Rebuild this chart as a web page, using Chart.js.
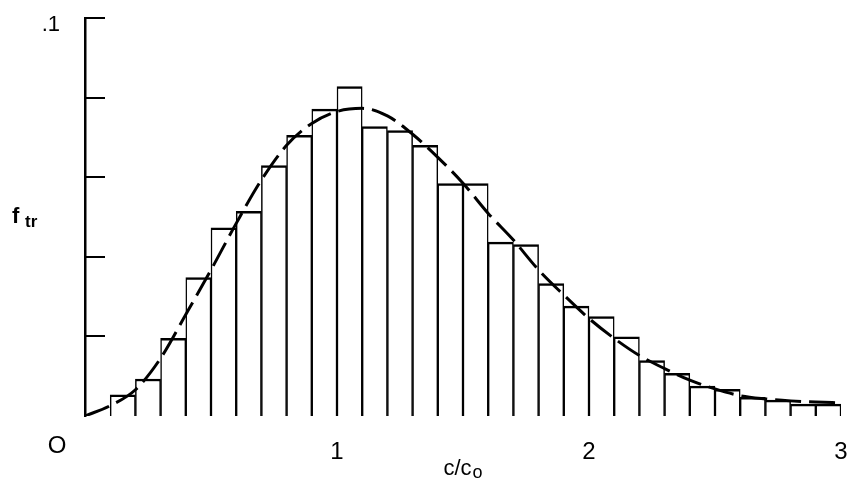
<!DOCTYPE html>
<html>
<head>
<meta charset="utf-8">
<script src="https://cdn.jsdelivr.net/npm/chart.js@4.4.1/dist/chart.umd.min.js"></script>
<style>
    html, body { margin: 0; padding: 0; background: #fff; }
    #wrap { width: 851px; height: 483px; }
</style>
</head>
<body>
<div id="wrap"><canvas id="histChart"></canvas></div>
<script>
// Histogram bins of c/c0 (width 0.1), centre of each bin
const binCenters = [0.05, 0.15, 0.25, 0.35, 0.45, 0.55, 0.65, 0.75, 0.85, 0.95,
                    1.05, 1.15, 1.25, 1.35, 1.45, 1.55, 1.65, 1.75, 1.85, 1.95,
                    2.05, 2.15, 2.25, 2.35, 2.45, 2.55, 2.65, 2.75, 2.85, 2.95];

// f_tr for each bin
const barHeights = [0, 0.0053, 0.0093, 0.0195, 0.0348, 0.0473, 0.0514, 0.0629, 0.0705, 0.0771,
                    0.0828, 0.0727, 0.0717, 0.0680, 0.0584, 0.0584, 0.0437, 0.0431, 0.0333, 0.0276,
                    0.0250, 0.0199, 0.0139, 0.0107, 0.0075, 0.0067, 0.0047, 0.0040, 0.0030, 0.0030];

// Dashed fitted curve
const curveX = [0, 0.1, 0.2, 0.3, 0.4, 0.5, 0.6, 0.7, 0.8, 0.9,
                1.0, 1.1, 1.2, 1.3, 1.4, 1.5, 1.6, 1.7, 1.8, 1.9,
                2.0, 2.1, 2.2, 2.3, 2.4, 2.5, 2.6, 2.7, 2.8, 2.9, 3.0];
const curveY = [0, 0.0026, 0.0066, 0.0145, 0.0255, 0.0367, 0.0484, 0.0593, 0.0680, 0.0735,
                0.0765, 0.0773, 0.0754, 0.0708, 0.0650, 0.0585, 0.0509, 0.0442, 0.0367, 0.0304,
                0.0245, 0.0195, 0.0152, 0.0119, 0.0090, 0.0068, 0.0051, 0.0043, 0.0038, 0.0035, 0.0033];

// Tick labels
const xTickValues = [0, 1, 2, 3];
const xTickLabels = ['O', '1', '2', '3'];
const yTickLabel = '.1';

const FONT = '"Liberation Sans", Arial, sans-serif';


// Inward y ticks, the shifted "O" and the two axis titles
const paperAxes = {
    id: 'paperAxes',

    afterDraw(chart) {
        const ctx = chart.ctx;
        const x = chart.scales.x;
        const y = chart.scales.y;

        ctx.save();
        ctx.strokeStyle = '#000';
        ctx.lineWidth = 2;

        y.ticks.forEach(t => {
            if (t.value === 0) return;
            const py = Math.round(y.getPixelForValue(t.value));
            ctx.beginPath();
            ctx.moveTo(y.right, py);
            ctx.lineTo(y.right + 20, py);
            ctx.stroke();
        });

        ctx.fillStyle = '#000';
        ctx.textBaseline = 'alphabetic';

        // zero label sits left of the axis
        ctx.font = '24px ' + FONT;
        ctx.textAlign = 'center';
        ctx.fillText(xTickLabels[0], x.getPixelForValue(0) - 28, 453);

        // y title f_tr
        ctx.textAlign = 'left';
        ctx.font = 'bold 22px ' + FONT;
        ctx.fillText('f', 12, 223);
        ctx.font = 'bold 17px ' + FONT;
        ctx.fillText('tr', 25, 227);

        // x title c/c_o
        const cx = (chart.chartArea.left + chart.chartArea.right) / 2;
        ctx.font = '22px ' + FONT;
        const w1 = ctx.measureText('c/c').width;
        ctx.font = '18px ' + FONT;
        const w2 = ctx.measureText('o').width;
        const start = cx - (w1 + w2 + 1) / 2;
        ctx.font = '22px ' + FONT;
        ctx.fillText('c/c', start, 475);
        ctx.font = '18px ' + FONT;
        ctx.fillText('o', start + w1 + 1, 478);

        ctx.restore();
    }
};


// Create Histogram Chart
function createHistChart() {

    const ctx = document.getElementById('histChart').getContext('2d');

    new Chart(ctx, {
        type: 'bar',

        data: {
            datasets: [{
                type: 'line',
                label: 'fit',
                data: curveX.map((v, i) => ({ x: v, y: curveY[i] })),
                borderColor: '#000',
                borderWidth: 3,
                borderDash: [26, 8],
                pointRadius: 0,
                fill: false,
                cubicInterpolationMode: 'monotone',
                order: 0
            }, {
                label: 'f_tr',
                data: binCenters.map((v, i) => ({ x: v, y: barHeights[i] })),
                backgroundColor: '#fff',
                borderColor: '#000',
                borderWidth: { top: 2.5, left: 1.5, right: 1.5, bottom: 0 },
                borderSkipped: 'start',
                barPercentage: 1,
                categoryPercentage: 1,
                order: 1
            }]
        },

        options: {
            responsive: true,
            maintainAspectRatio: false,
            animation: false,

            layout: {
                padding: { left: 0, right: 10, top: 18, bottom: 0 }
            },

            plugins: {
                legend: { display: false },
                tooltip: { enabled: false }
            },

            scales: {
                x: {
                    type: 'linear',
                    min: 0,
                    max: 3,
                    offset: false,
                    afterBuildTicks: (scale) => {
                        scale.ticks = xTickValues.map(v => ({ value: v }));
                    },
                    afterFit: (scale) => {
                        scale.height = 67;
                        scale.paddingLeft = 0;
                        scale.paddingRight = 0;
                    },
                    grid: { display: false },
                    border: { display: false },
                    ticks: {
                        padding: 14,
                        color: '#000',
                        font: { family: FONT, size: 24 },
                        maxRotation: 0,
                        autoSkip: false,
                        callback: (v) => v === 0 ? '' : xTickLabels[xTickValues.indexOf(v)]
                    }
                },

                y: {
                    min: 0,
                    max: 0.1,
                    afterFit: (scale) => {
                        scale.width = 85;
                        scale.paddingTop = 0;
                        scale.paddingBottom = 0;
                    },
                    grid: { display: false, drawTicks: false },
                    border: { display: true, color: '#000', width: 2.5 },
                    ticks: {
                        stepSize: 0.02,
                        padding: 25,
                        labelOffset: 7,
                        color: '#000',
                        font: { family: FONT, size: 22 },
                        callback: (v) => Math.abs(v - 0.1) < 1e-9 ? yTickLabel : ''
                    }
                }
            }
        },

        plugins: [paperAxes]
    });
}

createHistChart();
</script>
</body>
</html>
